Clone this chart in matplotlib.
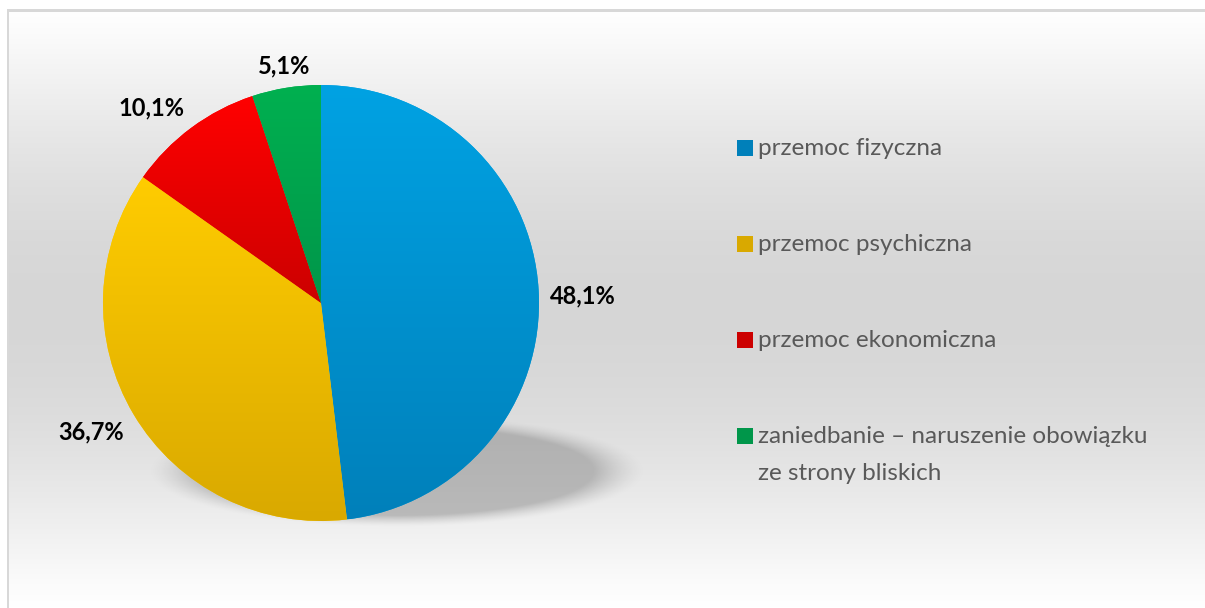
import numpy as np
import matplotlib
matplotlib.use("Agg")
import matplotlib.pyplot as plt
from matplotlib.colors import to_rgb
from matplotlib.patches import Rectangle

plt.rcParams['font.family'] = ['Lato', 'DejaVu Sans']

categories = [
    "przemoc fizyczna",
    "przemoc psychiczna",
    "przemoc ekonomiczna",
    "zaniedbanie \u2013 naruszenie obowiązku\nze strony bliskich",
]
values = [48.1, 36.7, 10.1, 5.1]
# top / bottom colour of each slice gradient
top_colors = ["#00a2e3", "#ffcc00", "#ff0000", "#00b050"]
bottom_colors = ["#0080ba", "#d9a900", "#cc0000", "#00964a"]

W, H = 1205, 608
fig = plt.figure(figsize=(W / 100, H / 100), dpi=100, facecolor="white")

# chart area background: light gradient white -> grey -> white (top to bottom)
bg = np.ones((H, W, 3))
ys = np.linspace(0, 1, H - 10)
g = 1.0 - 0.16 * np.sin(np.pi * ys) ** 1.1
bg[10:, 8:, :] = g[:, None, None]
bg[9:12, 7:, :] = 0.85   # top border
bg[9:, 7:9, :] = 0.85    # left border
fig.figimage(bg, 0, 0, origin="upper", zorder=-5)

ax = fig.add_axes([0, 0, 1, 1])
ax.patch.set_visible(False)

# soft shadow under the pie
cx, cy, R = 321, H - 303, 218
sx, sy, sa, sb = 397, H - 471, 235, 53
xx, yy = np.meshgrid(np.linspace(sx - sa * 1.2, sx + sa * 1.2, 400),
                     np.linspace(sy - sb * 1.6, sy + sb * 1.6, 200))
r = np.sqrt(((xx - sx) / sa) ** 2 + ((yy - sy) / sb) ** 2)
alpha = np.clip((1.06 - r) / 0.22, 0, 1) ** 1.5 * 0.42
shadow = np.zeros(xx.shape + (4,))
shadow[..., :3] = 0.45
shadow[..., 3] = alpha
ax.imshow(shadow, extent=[sx - sa * 1.2, sx + sa * 1.2, sy - sb * 1.6, sy + sb * 1.6],
          origin="lower", aspect="auto", interpolation="bilinear", zorder=2)

wedges, _ = ax.pie(values, colors=top_colors, startangle=90, counterclock=False,
                   center=(cx, cy), radius=R, frame=True,
                   wedgeprops=dict(linewidth=0, zorder=3))
ax.set_xlim(0, W)
ax.set_ylim(0, H)
ax.set_aspect("auto")
ax.axis("off")

# vertical gradient inside each slice
for w, c0, c1 in zip(wedges, top_colors, bottom_colors):
    ext = w.get_path().get_extents(w.get_patch_transform())
    t = np.linspace(0, 1, 256)[:, None]
    grad = (1 - t) * np.array(to_rgb(c0)) + t * np.array(to_rgb(c1))
    grad = grad[:, None, :].repeat(2, axis=1)
    im = ax.imshow(grad, extent=[ext.x0, ext.x1, ext.y0, ext.y1], origin="upper",
                   aspect="auto", interpolation="bilinear", zorder=4)
    im.set_clip_path(w)

# data labels, outside end
gap = 11
for w, v in zip(wedges, values):
    th = np.deg2rad((w.theta1 + w.theta2) / 2)
    c, s = np.cos(th), np.sin(th)
    px, py = cx + (R + gap) * c, cy + (R + gap) * s
    ha = "left" if c > 0.3 else ("right" if c < -0.3 else "center")
    va = "bottom" if s > 0.3 else ("top" if s < -0.3 else "center")
    if va == "center":
        py -= 7
    ax.text(px, py, f"{v:.1f}%".replace(".", ","), ha=ha, va=va,
            fontsize=17, fontweight="bold", color="black", zorder=5)

# legend
leg_x, leg_y, step = 737, H - 148, 96
for i, (lab, c1) in enumerate(zip(categories, bottom_colors)):
    y = leg_y - i * step
    ax.add_patch(Rectangle((leg_x, y - 8), 16, 16, color=c1, lw=0, zorder=5))
    ax.text(leg_x + 21, y + 10, lab, ha="left", va="top", fontsize=17.5,
            color="#595959", linespacing=1.95, zorder=5)

fig.savefig("out.png", dpi=100, facecolor="white")
